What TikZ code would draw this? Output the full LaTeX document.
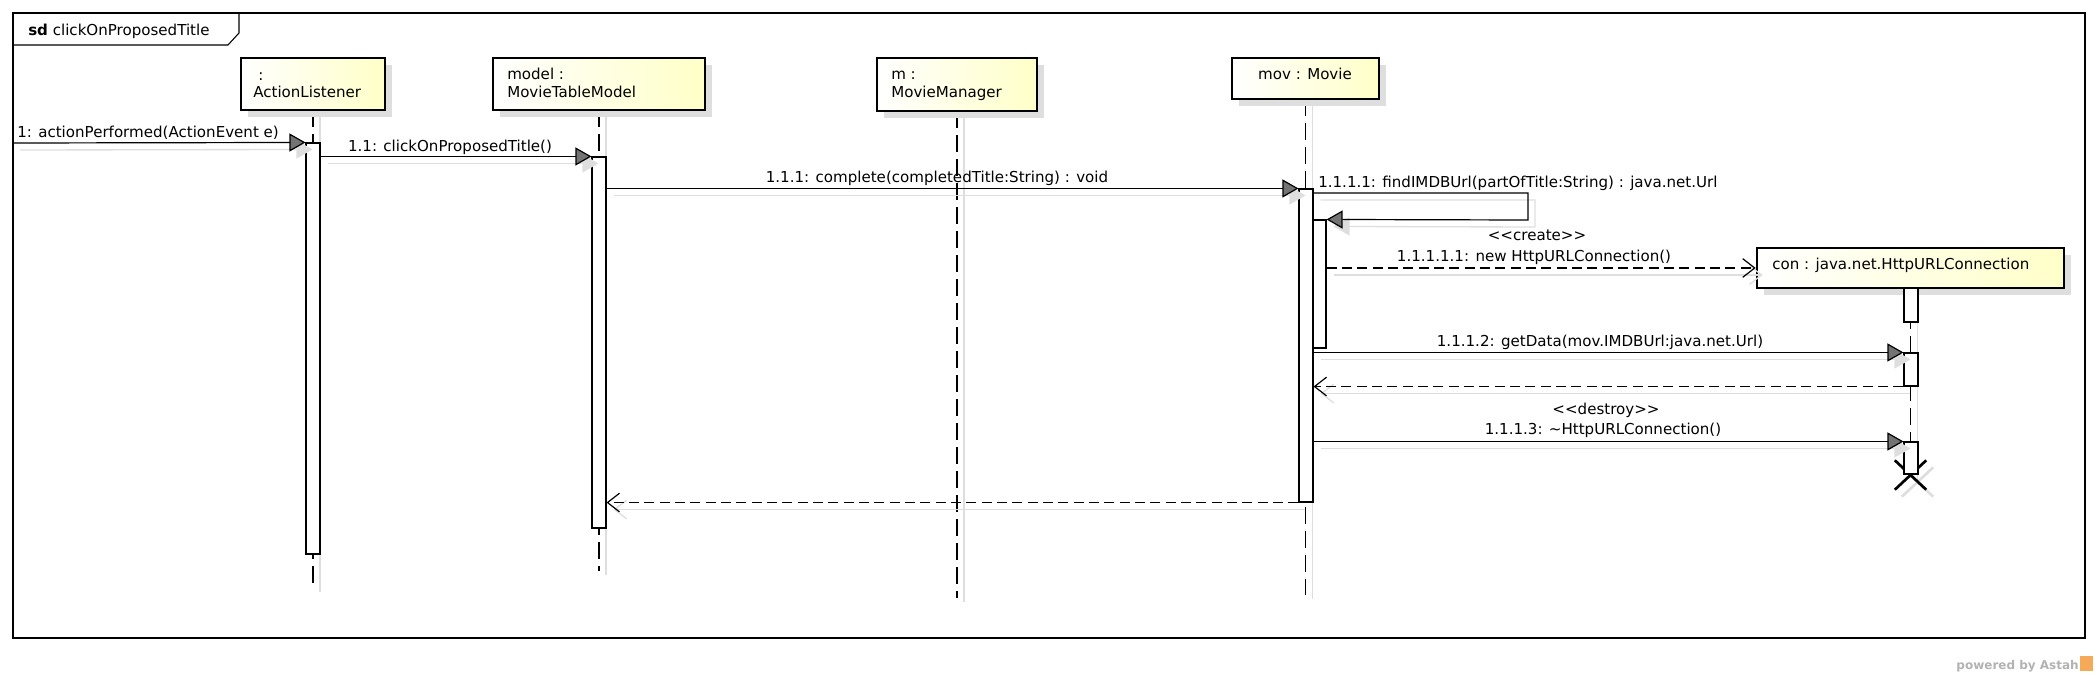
\documentclass[tikz,border=0pt]{standalone}
\usepackage{fontspec}
\setmainfont{DejaVu Sans}
\usetikzlibrary{arrows.meta,fit,shadows,shapes.misc}

\definecolor{boxyellow}{RGB}{255,255,200}
\definecolor{shadowgray}{RGB}{222,222,222}
\definecolor{astahorange}{RGB}{245,170,90}
\newcommand\msgfont{\fontsize{11.3pt}{13pt}\selectfont}

\tikzset{
 objbox/.style={draw=black, line width=2pt, left color=white, right color=boxyellow, inner sep=0pt,
   general shadow={fill=shadowgray, shadow xshift=5pt, shadow yshift=-5pt}},
 actbox/.style={draw=black, line width=0.8pt, fill=white, inner sep=0pt},
 lifeline/.style={draw=black, line width=1.2pt, dash pattern=on 12.5pt off 5.5pt},
 shadowline/.style={draw=shadowgray, line width=1pt},
 sync/.style={draw=black, line width=0.9pt, -{Triangle[length=12pt,width=13.5pt,fill=black!55]}},
 reply/.style={draw=black, line width=0.9pt, dash pattern=on 7.5pt off 4pt, -{Straight Barb[length=9pt,width=14pt]}},
 shadowsync/.style={shadowline, -{Triangle[length=12pt,width=13.5pt,fill=shadowgray]}},
 shadowreply/.style={shadowline, -{Straight Barb[length=9pt,width=14pt]}},
 destroyx/.style={cross out, line width=2pt, minimum width=21.5pt, minimum height=20pt, inner sep=0pt},
 lbl/.style={anchor=base, inner sep=0pt, font=\msgfont},
 lblw/.style={anchor=base west, inner sep=0pt, font=\msgfont},
}

\begin{document}
\begin{tikzpicture}[x=0.75pt,y=-0.75pt]
\useasboundingbox (0,0) rectangle (2097,678);

% frame
\node[draw=black, line width=1pt, fit={(13,13)(2085,638)}, inner sep=0pt] (frame) {};
\coordinate (tabA) at (239,13);
\coordinate (tabB) at (239,33);
\coordinate (tabC) at (228,45);
\coordinate (tabD) at (13,45);
\draw[line width=0.8pt] (tabA) -- (tabB) -- (tabC) -- (tabD);
\node[lblw] (title) at (28,35) {\textbf{sd} clickOnProposedTitle};

% lifeline ends
\coordinate (alEnd) at (313,588);
\coordinate (mtmEnd) at (599,571);
\coordinate (mmEnd) at (957,598);
\coordinate (movEnd) at (1305.5,595);
\coordinate (conEnd) at (1910.5,475);

% geometry of heads
\node[inner sep=0pt, fit={(241,58)(385,110)}] (alG) {};
\node[inner sep=0pt, fit={(493,58)(705,110)}] (mtmG) {};
\node[inner sep=0pt, fit={(877,58)(1037,111)}] (mmG) {};
\node[inner sep=0pt, fit={(1232,58)(1379,99)}] (movG) {};
\node[inner sep=0pt, fit={(1757,248)(2064,288)}] (conG) {};

% shadows of lifelines and destroy mark
\begin{scope}[transform canvas={shift={(7,4)}}]
 \draw[shadowline] (alG.south) -- (alEnd);
 \draw[shadowline] (mtmG.south) -- (mtmEnd);
 \draw[shadowline] (mmG.south) -- (mmEnd);
 \draw[shadowline] (movG.south) -- (movEnd);
 \draw[shadowline] (conG.south) -- (conEnd);
\end{scope}
\begin{scope}[transform canvas={shift={(7,7)}}]
 \node[destroyx, draw=shadowgray] (conXs) at (conEnd) {};
\end{scope}

% lifelines
\draw[lifeline] (alG.south) -- (alEnd);
\draw[lifeline] (mtmG.south) -- (mtmEnd);
\draw[lifeline] (mmG.south) -- (mmEnd);
\draw[lifeline] (movG.south) -- (movEnd);
\draw[lifeline] (conG.south) -- (conEnd);

% destroy mark (under the last activation)
\node[destroyx, draw=black] (conX) at (conEnd) {};

% object boxes
\node[objbox, fit={(241,58)(385,110)}] (al) {};
\node[objbox, fit={(493,58)(705,110)}] (mtm) {};
\node[objbox, fit={(877,58)(1037,111)}] (mm) {};
\node[objbox, fit={(1232,58)(1379,99)}] (mov) {};
\node[objbox, fit={(1757,248)(2064,288)}] (con) {};

\node[lblw] (alT1) at (258,80) {:};
\node[lblw] (alT2) at (253,97) {ActionListener};
\node[lblw] (mtmT1) at (507,79) {model :};
\node[lblw] (mtmT2) at (507,97) {MovieTableModel};
\node[lblw] (mmT1) at (891,79) {m :};
\node[lblw] (mmT2) at (891,97) {MovieManager};
\node[lbl] (movT) at (1305,79) {mov : Movie};
\node[lblw] (conT) at (1772,269) {con : java.net.HttpURLConnection};

% activations
\node[actbox, fit={(306,143)(320,554)}] (alAct) {};
\node[actbox, fit={(592,157)(606,528)}] (mtmAct) {};
\node[actbox, fit={(1299,189)(1313,502)}] (movAct) {};
\node[actbox, fit={(1313,220)(1326,348)}] (movAct2) {};
\node[actbox, fit={(1904,288)(1918,322)}] (conAct1) {};
\node[actbox, fit={(1904,353)(1918,386)}] (conAct2) {};
\node[actbox, fit={(1904,442)(1918,474)}] (conAct3) {};

% message coordinates
\coordinate (m1s) at (13,143);
\coordinate (selfTop) at (1528,193);
\coordinate (selfBot) at (1528,220);

% message shadows
\begin{scope}[transform canvas={shift={(7,7)}}]
 \draw[shadowsync] (m1s) -- (alAct.north west);
 \draw[shadowsync] (alAct.east |- mtmAct.north) -- (mtmAct.north west);
 \draw[shadowsync] (mtmAct.east |- movAct.north) -- (movAct.north west);
 \draw[shadowsync] (movAct.east |- selfTop) -- (selfTop) -- (selfBot) -- (movAct2.north east);
 \draw[shadowreply] (movAct2.east |- con.west) -- (con.west);
 \draw[shadowsync] (movAct.east |- conAct2.north) -- (conAct2.north west);
 \draw[shadowreply] (conAct2.south west) -- (movAct.east |- conAct2.south);
 \draw[shadowsync] (movAct.east |- conAct3.north) -- (conAct3.north west);
 \draw[shadowreply] (movAct.south west) -- (mtmAct.east |- movAct.south);
\end{scope}

% messages
\draw[sync] (m1s) -- (alAct.north west);
\draw[sync] (alAct.east |- mtmAct.north) -- (mtmAct.north west);
\draw[sync] (mtmAct.east |- movAct.north) -- (movAct.north west);
\draw[sync] (movAct.east |- selfTop) -- (selfTop) -- (selfBot) -- (movAct2.north east);
\draw[reply] (movAct2.east |- con.west) -- (con.west);
\draw[sync] (movAct.east |- conAct2.north) -- (conAct2.north west);
\draw[reply] (conAct2.south west) -- (movAct.east |- conAct2.south);
\draw[sync] (movAct.east |- conAct3.north) -- (conAct3.north west);
\draw[reply] (movAct.south west) -- (mtmAct.east |- movAct.south);

% message labels
\node[lblw] (l1) at (17,137) {1: actionPerformed(ActionEvent e)};
\node[lbl] (l11) at (450,151) {1.1: clickOnProposedTitle()};
\node[lbl] (l111) at (937,182) {1.1.1: complete(completedTitle:String) : void};
\node[lblw] (l1111) at (1318,187) {1.1.1.1: findIMDBUrl(partOfTitle:String) : java.net.Url};
\node[lbl] (lc1) at (1537,240) {<{}<create>{}>};
\node[lbl] (lc2) at (1534,261) {1.1.1.1.1: new HttpURLConnection()};
\node[lbl] (l1112) at (1600,346) {1.1.1.2: getData(mov.IMDBUrl:java.net.Url)};
\node[lbl] (ld1) at (1606,414) {<{}<destroy>{}>};
\node[lbl] (ld2) at (1603,434) {1.1.1.3: \textasciitilde HttpURLConnection()};

% watermark
\node[anchor=base east, inner sep=0pt, font=\bfseries\fontsize{9pt}{10pt}\selectfont, text=black!30] (pw) at (2079,669) {powered by Astah};
\node[fill=astahorange, inner sep=0pt, fit={(2080,656)(2093,671)}] (logo) {};
\end{tikzpicture}
\end{document}
